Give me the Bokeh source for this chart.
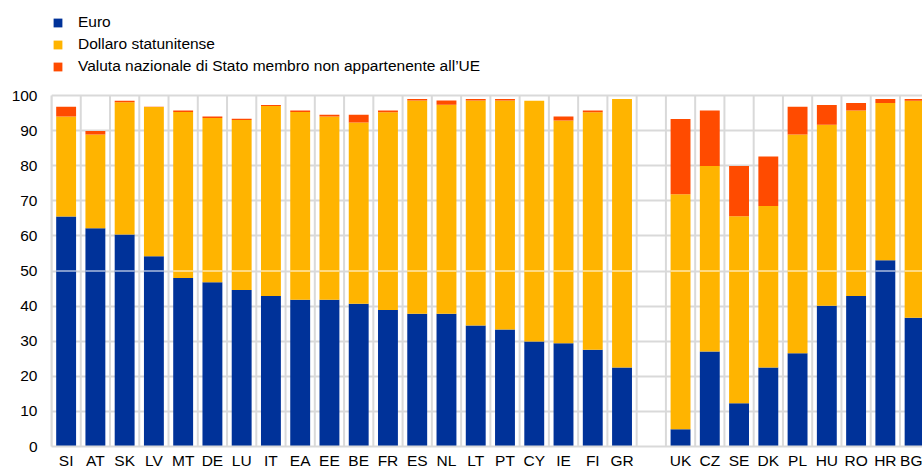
from bokeh.plotting import figure
from bokeh.models import ColumnDataSource, Range1d, FixedTicker, Legend, LegendItem
from bokeh.embed import file_html
from bokeh.resources import INLINE

# ---- data ----
countries_ea = ["SI", "AT", "SK", "LV", "MT", "DE", "LU", "IT", "EA", "EE",
                "BE", "FR", "ES", "NL", "LT", "PT", "CY", "IE", "FI", "GR"]
euro_ea = [65.5, 62.2, 60.4, 54.2, 48.0, 46.8, 44.6, 42.9, 41.8, 41.8,
           40.7, 38.9, 37.8, 37.8, 34.5, 33.3, 29.9, 29.4, 27.6, 22.5]
dollar_ea = [28.5, 26.7, 37.7, 42.5, 47.3, 46.8, 48.4, 54.1, 53.5, 52.2,
             51.6, 56.3, 60.8, 59.6, 64.1, 65.3, 68.6, 63.5, 67.6, 76.5]
other_ea = [2.8, 1.0, 0.4, 0.1, 0.4, 0.4, 0.4, 0.3, 0.4, 0.5,
            2.2, 0.5, 0.4, 1.2, 0.4, 0.4, 0.0, 1.1, 0.5, 0.0]

countries_non = ["UK", "CZ", "SE", "DK", "PL", "HU", "RO", "HR", "BG"]
euro_non = [4.9, 27.1, 12.3, 22.5, 26.6, 40.1, 42.9, 53.1, 36.7]
dollar_non = [67.0, 52.8, 53.3, 46.0, 62.3, 51.6, 52.8, 44.8, 61.8]
other_non = [21.4, 15.8, 14.3, 14.1, 7.9, 5.6, 2.2, 1.1, 0.5]

series_labels = ["Euro", "Dollaro statunitense",
                 "Valuta nazionale di Stato membro non appartenente all\u2019UE"]
colors = ["#003299", "#FFB400", "#FF4B00"]
y_ticks = [0, 10, 20, 30, 40, 50, 60, 70, 80, 90, 100]

# ---- build sources ----
countries = countries_ea + countries_non
xs = list(range(len(countries_ea))) + [len(countries_ea) + 1 + i for i in range(len(countries_non))]
BAR_W = 0.68
src = ColumnDataSource(dict(
    x=xs,
    euro=euro_ea + euro_non,
    dollar=dollar_ea + dollar_non,
    other=other_ea + other_non,
    x0=[x - BAR_W / 2 for x in xs],
    x1=[x + BAR_W / 2 for x in xs],
    mid=[50] * len(xs),
))
bounds_x = [i + 0.5 for i in range(-1, xs[-1] + 1)]
grid_src = ColumnDataSource(dict(x=bounds_x, y0=[y_ticks[0]] * len(bounds_x),
                                 y1=[y_ticks[-1]] * len(bounds_x)))

p = figure(width=922, height=472, output_backend="svg", toolbar_location=None,
           x_range=Range1d(-0.5, 29.27), y_range=Range1d(0, 127.07),
           min_border_left=51, min_border_right=0, min_border_top=0,
           min_border_bottom=26)
p.outline_line_color = None
p.background_fill_color = "white"
p.border_fill_color = "white"

# vertical grid lines (category boundaries, 0..100 only)
p.segment(x0="x", x1="x", y0="y0", y1="y1", source=grid_src,
          line_color="#d9d9d9", line_width=2, level="underlay")

renderers = p.vbar_stack(["euro", "dollar", "other"], x="x", width=BAR_W,
                         color=colors, source=src, line_color=None)

# white line at 50 across bars (as in the reference)
p.segment(x0="x0", x1="x1", y0="mid", y1="mid", source=src,
          line_color="white", line_width=1.2)

# axes
p.yaxis.ticker = FixedTicker(ticks=y_ticks)
p.yaxis.bounds = (y_ticks[0], y_ticks[-1])
p.xaxis.ticker = FixedTicker(ticks=xs)
p.xaxis.major_label_overrides = {x: c for x, c in zip(xs, countries)}
for ax in (p.xaxis[0], p.yaxis[0]):
    ax.axis_line_color = "#d9d9d9"
    ax.axis_line_width = 2
    ax.major_tick_line_color = None
    ax.minor_tick_line_color = None
    ax.major_tick_out = 0
    ax.major_tick_in = 0
    ax.minor_tick_out = 0
    ax.minor_tick_in = 0
    ax.axis_label_standoff = 0
    ax.major_label_text_font = "Liberation Sans"
    ax.major_label_text_font_size = "15.5px"
    ax.major_label_text_color = "#000000"
p.yaxis.major_label_standoff = 14
p.xaxis.major_label_standoff = 5

# horizontal grid
p.ygrid.ticker = FixedTicker(ticks=y_ticks)
p.ygrid.grid_line_color = "#d9d9d9"
p.ygrid.grid_line_width = 2
p.ygrid.level = "underlay"
p.xgrid.grid_line_color = None

# legend (inside the frame, above the 100 line)
legend = Legend(items=[LegendItem(label=l, renderers=[r]) for l, r in zip(series_labels, renderers)],
                location=(1, 370), orientation="vertical",
                glyph_width=11, glyph_height=11, label_height=20, spacing=2,
                label_standoff=15, padding=0, margin=0,
                label_text_font="Liberation Sans", label_text_font_size="15.5px",
                label_text_color="#000000",
                border_line_color=None, background_fill_alpha=0)
p.add_layout(legend, "center")

open("out.html", "w").write(file_html(p, INLINE))
